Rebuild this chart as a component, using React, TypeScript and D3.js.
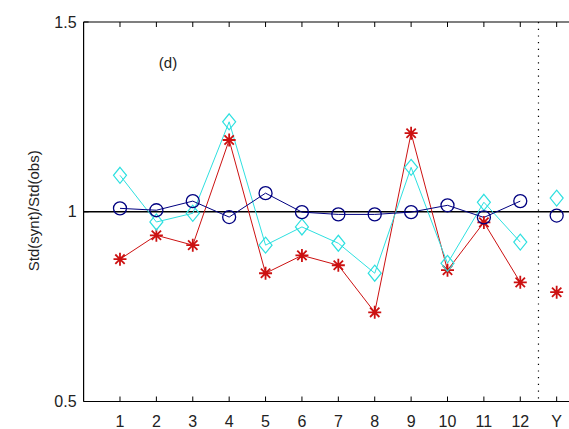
import React from "react";
import * as d3 from "d3";

const months = ["1", "2", "3", "4", "5", "6", "7", "8", "9", "10", "11", "12"];
const xTickLabels = ["1", "2", "3", "4", "5", "6", "7", "8", "9", "10", "11", "12", "Y"];
const yTicks = [0.5, 1, 1.5];

const circleSeries = [1.009, 1.004, 1.028, 0.986, 1.049, 0.999, 0.993, 0.993, 0.999, 1.017, 0.985, 1.028];
const circleYear = 0.99;
const diamondSeries = [1.096, 0.973, 0.996, 1.237, 0.912, 0.96, 0.917, 0.838, 1.117, 0.864, 1.025, 0.92];
const diamondYear = 1.036;
const starSeries = [0.875, 0.938, 0.912, 1.189, 0.838, 0.885, 0.859, 0.735, 1.207, 0.846, 0.972, 0.814];
const starYear = 0.788;

const W = 569;
const H = 429;

export default function App() {
  const x = d3.scaleLinear().domain([0, 14]).range([83.6, 83.6 + 14 * 36.39]);
  const y = d3.scaleLinear().domain([0.5, 1.5]).range([401.5, 22]);
  const left = x(0);
  const right = x(14);
  const top = y(1.5);
  const bottom = y(0.5);

  const pts = (arr: number[]) => arr.map((v, i) => [x(i + 1), y(v)] as [number, number]);
  const line = d3.line<[number, number]>();

  const navy = "#000080";
  const cyan = "#2ee0e0";
  const red = "#cc1111";

  const star = (cx: number, cy: number, k: string) => {
    const r = 6.5;
    const d = r * 0.72;
    return (
      <path
        key={k}
        d={`M${cx - r},${cy}L${cx + r},${cy}M${cx},${cy - r}L${cx},${cy + r}M${cx - d},${cy - d}L${cx + d},${cy + d}M${cx - d},${cy + d}L${cx + d},${cy - d}`}
        stroke={red}
        strokeWidth={1.8}
        fill="none"
      />
    );
  };
  const diamond = (cx: number, cy: number, k: string) => (
    <path
      key={k}
      d={`M${cx},${cy - 8}L${cx + 6.5},${cy}L${cx},${cy + 8}L${cx - 6.5},${cy}Z`}
      stroke={cyan}
      strokeWidth={1.2}
      fill="none"
    />
  );
  const circ = (cx: number, cy: number, k: string) => (
    <circle key={k} cx={cx} cy={cy} r={6.5} stroke={navy} strokeWidth={1.3} fill="none" />
  );

  const xTickVals = xTickLabels.map((_, i) => i + 1);
  const font = "'Liberation Sans', Arial, sans-serif";

  return (
    <svg width={W} height={H} style={{ position: "absolute", left: 0, top: 0, background: "#fff" }}>
      <rect x={0} y={0} width={W} height={H} fill="#fff" />
      {/* reference line at 1 */}
      <line x1={left} x2={right} y1={y(1)} y2={y(1)} stroke="#000" strokeWidth={1.3} />
      {/* dotted separator */}
      <line x1={x(12.5)} x2={x(12.5)} y1={top} y2={bottom} stroke="#000" strokeWidth={1.2} strokeDasharray="1.2,5.5" />

      {/* series lines */}
      <path d={line(pts(starSeries)) || ""} stroke={red} strokeWidth={1} fill="none" />
      <path d={line(pts(diamondSeries)) || ""} stroke={cyan} strokeWidth={1} fill="none" />
      <path d={line(pts(circleSeries)) || ""} stroke={navy} strokeWidth={1} fill="none" />

      {pts(starSeries).map(([px, py], i) => star(px, py, "s" + i))}
      {star(x(13), y(starYear), "sy")}
      {pts(diamondSeries).map(([px, py], i) => diamond(px, py, "d" + i))}
      {diamond(x(13), y(diamondYear), "dy")}
      {pts(circleSeries).map(([px, py], i) => circ(px, py, "c" + i))}
      {circ(x(13), y(circleYear), "cy")}

      {/* axes box */}
      <line x1={left} x2={right} y1={bottom} y2={bottom} stroke="#000" strokeWidth={1.2} />
      <line x1={left} x2={right} y1={top} y2={top} stroke="#000" strokeWidth={1.2} />
      <line x1={left} x2={left} y1={top} y2={bottom} stroke="#000" strokeWidth={1.2} />

      {xTickVals.map((v, i) => (
        <g key={"xt" + i}>
          <line x1={x(v)} x2={x(v)} y1={bottom} y2={bottom - 5} stroke="#000" strokeWidth={1} />
          <line x1={x(v)} x2={x(v)} y1={top} y2={top + 5} stroke="#000" strokeWidth={1} />
          <text x={x(v)} y={bottom + 25} textAnchor="middle" fontFamily={font} fontSize={16} fill="#222">
            {xTickLabels[i]}
          </text>
        </g>
      ))}
      {yTicks.map((v) => (
        <g key={"yt" + v}>
          <line x1={left} x2={left + 5} y1={y(v)} y2={y(v)} stroke="#000" strokeWidth={1} />
          <text x={left - 7} y={y(v)} dy="0.35em" textAnchor="end" fontFamily={font} fontSize={16} fill="#222">
            {v === 1 ? "1" : String(v)}
          </text>
        </g>
      ))}

      <text x={168} y={68} textAnchor="middle" fontFamily={font} fontSize={15} fill="#222">
        (d)
      </text>
      <text
        transform={`translate(39,${y(1) - 1}) rotate(-90)`}
        textAnchor="middle"
        fontFamily={font}
        fontSize={15}
        fill="#222"
      >
        Std(synt)/Std(obs)
      </text>
    </svg>
  );
}
